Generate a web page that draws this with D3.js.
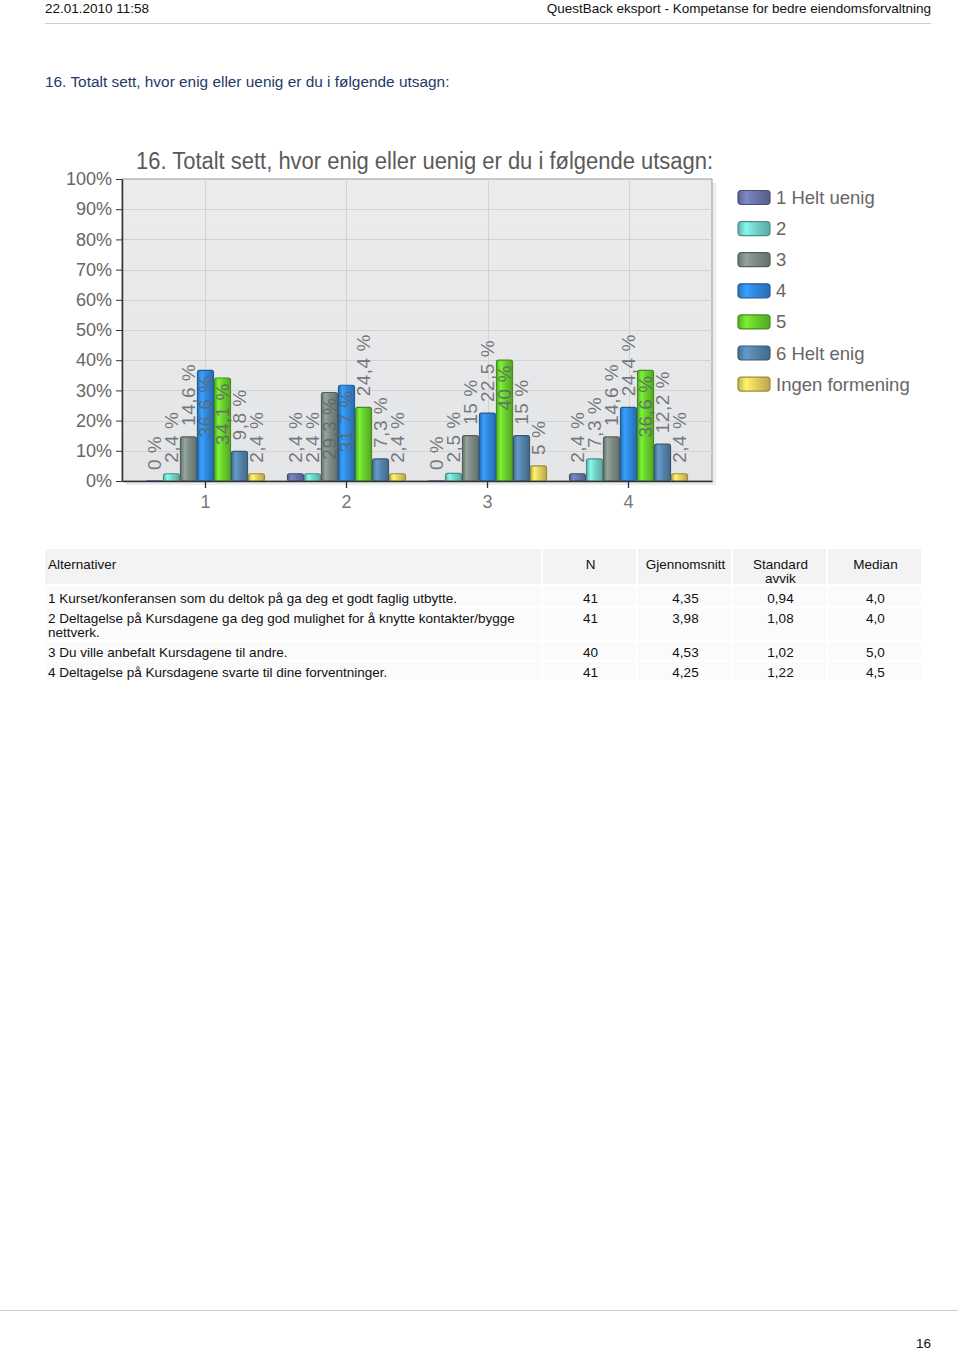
<!DOCTYPE html>
<html>
<head>
<meta charset="utf-8">
<script src="https://cdn.jsdelivr.net/npm/d3@7"></script>
<style>
  html, body { margin: 0; padding: 0; background: #fff; }
  svg { display: block; font-family: "Liberation Sans", Arial, sans-serif; }
</style>
</head>
<body>
<svg id="page" width="960" height="1351"></svg>
<script>
// ---------- DATA ----------
const categories = ["1", "2", "3", "4"];
const seriesNames = ["1 Helt uenig", "2", "3", "4", "5", "6 Helt enig", "Ingen formening"];
const seriesColors = ["#6a75ab", "#72d3c9", "#7d8b86", "#2f88dc", "#68cf2c", "#5583ac", "#e6d05c"];
const values1 = [0, 2.4, 14.6, 36.6, 34.1, 9.8, 2.4];
const values2 = [2.4, 2.4, 29.3, 31.7, 24.4, 7.3, 2.4];
const values3 = [0, 2.5, 15, 22.5, 40, 15, 5];
const values4 = [2.4, 7.3, 14.6, 24.4, 36.6, 12.2, 2.4];
const yTicks = [0, 10, 20, 30, 40, 50, 60, 70, 80, 90, 100];

const tableHeader = ["Alternativer", "N", "Gjennomsnitt", "Standard\navvik", "Median"];
const tableStatements = [
  "1 Kurset/konferansen som du deltok på ga deg et godt faglig utbytte.",
  "2 Deltagelse på Kursdagene ga deg god mulighet for å knytte kontakter/bygge\nnettverk.",
  "3 Du ville anbefalt Kursdagene til andre.",
  "4 Deltagelse på Kursdagene svarte til dine forventninger."
];
const tableN = ["41", "41", "40", "41"];
const tableMean = ["4,35", "3,98", "4,53", "4,25"];
const tableStd = ["0,94", "1,08", "1,02", "1,22"];
const tableMedian = ["4,0", "4,0", "5,0", "4,5"];

const headerDate = "22.01.2010 11:58";
const headerTitle = "QuestBack eksport - Kompetanse for bedre eiendomsforvaltning";
const questionTitle = "16. Totalt sett, hvor enig eller uenig er du i følgende utsagn:";
const pageNumber = "16";

const groups = [values1, values2, values3, values4];

// ---------- PAGE ----------
const svg = d3.select("#page");
const fmt = v => String(v).replace(".", ",") + " %";

svg.append("text").attr("x", 45).attr("y", 12.5).attr("font-size", 13.5).attr("fill", "#111").text(headerDate);
svg.append("text").attr("x", 931).attr("y", 12.5).attr("font-size", 13.5).attr("fill", "#111")
  .attr("text-anchor", "end").text(headerTitle);
svg.append("line").attr("x1", 45).attr("x2", 931).attr("y1", 23.5).attr("y2", 23.5)
  .attr("stroke", "#cfcfcf").attr("stroke-width", 1);
svg.append("text").attr("x", 45).attr("y", 87).attr("font-size", 15.4).attr("fill", "#1d3a66").text(questionTitle);

// ---------- CHART ----------
const plot = { left: 122, right: 712, top: 179, bottom: 481 };
const x0 = d3.scaleBand().domain(categories).range([plot.left, plot.right]).paddingInner(0.156).paddingOuter(0.17);
const x1 = d3.scaleBand().domain(seriesNames).range([0, x0.bandwidth()]).padding(0);
const y = d3.scaleLinear().domain([0, 100]).range([plot.bottom, plot.top]);

const defs = svg.append("defs");
seriesColors.forEach((c, i) => {
  const g = defs.append("linearGradient").attr("id", "bg" + i).attr("x1", "0%").attr("x2", "100%");
  const base = d3.color(c);
  g.append("stop").attr("offset", "0%").attr("stop-color", base.darker(0.5));
  g.append("stop").attr("offset", "25%").attr("stop-color", base.brighter(0.45));
  g.append("stop").attr("offset", "55%").attr("stop-color", base);
  g.append("stop").attr("offset", "100%").attr("stop-color", base.darker(0.6));
});
const pg = defs.append("linearGradient").attr("id", "plotbg").attr("x1", "0").attr("x2", "0").attr("y1", "0").attr("y2", "1");
pg.append("stop").attr("offset", "0%").attr("stop-color", "#ececec");
pg.append("stop").attr("offset", "100%").attr("stop-color", "#e4e5e7");

// shadow + background
svg.append("rect").attr("x", plot.left + 4).attr("y", plot.top + 4)
  .attr("width", plot.right - plot.left).attr("height", plot.bottom - plot.top)
  .attr("fill", "#ececec");
svg.append("rect").attr("x", plot.left).attr("y", plot.top)
  .attr("width", plot.right - plot.left).attr("height", plot.bottom - plot.top)
  .attr("fill", "url(#plotbg)").attr("stroke", "#9a9a9a").attr("stroke-width", 1);

// grid
svg.append("g").selectAll("line").data(yTicks.slice(1, -1)).join("line")
  .attr("x1", plot.left).attr("x2", plot.right)
  .attr("y1", d => Math.round(y(d)) + 0.5).attr("y2", d => Math.round(y(d)) + 0.5)
  .attr("stroke", "#d2d2d2");
svg.append("g").selectAll("line").data(categories).join("line")
  .attr("x1", d => Math.round(x0(d) + x0.bandwidth() / 2) + 0.5)
  .attr("x2", d => Math.round(x0(d) + x0.bandwidth() / 2) + 0.5)
  .attr("y1", plot.top).attr("y2", plot.bottom)
  .attr("stroke", "#d2d2d2");

// bars
const gBars = svg.append("g");
groups.forEach((vals, gi) => {
  const gx = x0(categories[gi]);
  const sel = gBars.append("g").attr("transform", `translate(${gx},0)`);
  sel.selectAll("rect").data(vals).join("rect")
    .attr("x", (d, i) => x1(seriesNames[i]) + 0.5)
    .attr("y", d => y(d))
    .attr("width", x1.bandwidth() - 1)
    .attr("height", d => Math.max(0, y(0) - y(d)))
    .attr("rx", 2)
    .attr("fill", (d, i) => `url(#bg${i})`)
    .attr("stroke", (d, i) => d3.color(seriesColors[i]).darker(1.1))
    .attr("stroke-width", 1.2);
  sel.selectAll("rect.zero").data(vals.map((v, i) => ({ v, i })).filter(o => o.v === 0)).join("rect")
    .attr("class", "zero")
    .attr("x", o => x1(seriesNames[o.i]) + 0.5).attr("y", y(0) - 1)
    .attr("width", x1.bandwidth() - 1).attr("height", 1)
    .attr("fill", o => seriesColors[o.i]);
  sel.selectAll("text").data(vals).join("text")
    .attr("transform", (d, i) => {
      const cx = x1(seriesNames[i]) + x1.bandwidth() / 2;
      const inside = d >= 28;
      const ty = inside ? y(d) + 5 : y(d) - 11;
      return `translate(${cx},${ty}) rotate(-90)`;
    })
    .attr("text-anchor", d => d >= 28 ? "end" : "start")
    .attr("dominant-baseline", "central")
    .attr("font-size", 19)
    .attr("letter-spacing", 0.5)
    .attr("fill", "#5f6469")
    .attr("fill-opacity", 0.85)
    .text(d => fmt(d));
});

// axes
const yAxis = svg.append("g").attr("transform", `translate(${plot.left},0)`)
  .call(d3.axisLeft(y).tickValues(yTicks).tickFormat(d => d + "%").tickSize(6).tickSizeOuter(0));
yAxis.select(".domain").attr("stroke", "#333").attr("stroke-width", 1.5);
yAxis.selectAll(".tick line").attr("stroke", "#333");
yAxis.selectAll(".tick text").attr("font-size", 18).attr("fill", "#666")
  .attr("font-family", "'Liberation Sans', Arial, sans-serif").attr("x", -10);

const xAxis = svg.append("g").attr("transform", `translate(0,${plot.bottom})`)
  .call(d3.axisBottom(x0).tickSize(7).tickSizeOuter(0));
xAxis.select(".domain").attr("stroke", "#333").attr("stroke-width", 1.5);
xAxis.selectAll(".tick line").attr("stroke", "#333").attr("stroke-width", 1.3);
xAxis.selectAll(".tick text").attr("font-size", 18).attr("fill", "#777")
  .attr("font-family", "'Liberation Sans', Arial, sans-serif").attr("dy", "0.95em");

// chart title
svg.append("text").attr("x", 136).attr("y", 169).attr("font-size", 23).attr("fill", "#5a5a5a")
  .attr("textLength", 577).attr("lengthAdjust", "spacingAndGlyphs").text(questionTitle);

// legend
const legend = svg.append("g");
const leg = legend.selectAll("g").data(seriesNames).join("g")
  .attr("transform", (d, i) => `translate(738,${197.5 + i * 31.1})`);
leg.append("rect").attr("x", 0).attr("y", -7).attr("width", 32).attr("height", 14).attr("rx", 3)
  .attr("fill", (d, i) => `url(#bg${i})`)
  .attr("stroke", (d, i) => d3.color(seriesColors[i]).darker(1.1)).attr("stroke-width", 1.2);
leg.append("text").attr("x", 38).attr("y", 0).attr("dominant-baseline", "central")
  .attr("font-size", 18.5).attr("fill", "#666").text(d => d);

// ---------- TABLE ----------
const colEdges = [45, 543, 638, 733, 828, 923];
const table = svg.append("g").attr("font-size", 13.5).attr("fill", "#111");
table.selectAll("rect.h").data(tableHeader).join("rect").attr("class", "h")
  .attr("x", (d, i) => colEdges[i]).attr("y", 549)
  .attr("width", (d, i) => colEdges[i + 1] - colEdges[i] - 2).attr("height", 35)
  .attr("fill", "#f3f3f3");
const rowTops = [586, 608, 642, 662];
const rowHeights = [20, 32, 18, 18];
rowTops.forEach((top, r) => {
  table.selectAll(null).data(colEdges.slice(0, -1)).join("rect")
    .attr("x", (d, i) => d).attr("y", top)
    .attr("width", (d, i) => colEdges[i + 1] - d - 2).attr("height", rowHeights[r])
    .attr("fill", "#fbfbfb");
});
tableHeader.forEach((h, i) => {
  const lines = h.split("\n");
  const cx = i === 0 ? 48 : (colEdges[i] + colEdges[i + 1]) / 2;
  const t = table.append("text")
    .attr("x", cx)
    .attr("y", 569)
    .attr("text-anchor", i === 0 ? "start" : "middle");
  lines.forEach((l, k) => t.append("tspan")
    .attr("x", cx)
    .attr("dy", k === 0 ? 0 : 13.5).text(l));
});
const rowBase = [603, 623, 657, 677];
tableStatements.forEach((s, r) => {
  const t = table.append("text").attr("x", 48).attr("y", rowBase[r]);
  s.split("\n").forEach((l, k) => t.append("tspan").attr("x", 48).attr("dy", k === 0 ? 0 : 14).text(l));
});
[tableN, tableMean, tableStd, tableMedian].forEach((col, c) => {
  table.selectAll(null).data(col).join("text")
    .attr("x", (colEdges[c + 1] + colEdges[c + 2]) / 2)
    .attr("y", (d, r) => rowBase[r])
    .attr("text-anchor", "middle")
    .text(d => d);
});

// ---------- FOOTER ----------
svg.append("line").attr("x1", 0).attr("x2", 958).attr("y1", 1310.5).attr("y2", 1310.5)
  .attr("stroke", "#cfcfcf");
svg.append("text").attr("x", 931).attr("y", 1348).attr("font-size", 13.5).attr("fill", "#111")
  .attr("text-anchor", "end").text(pageNumber);
</script>
</body>
</html>
